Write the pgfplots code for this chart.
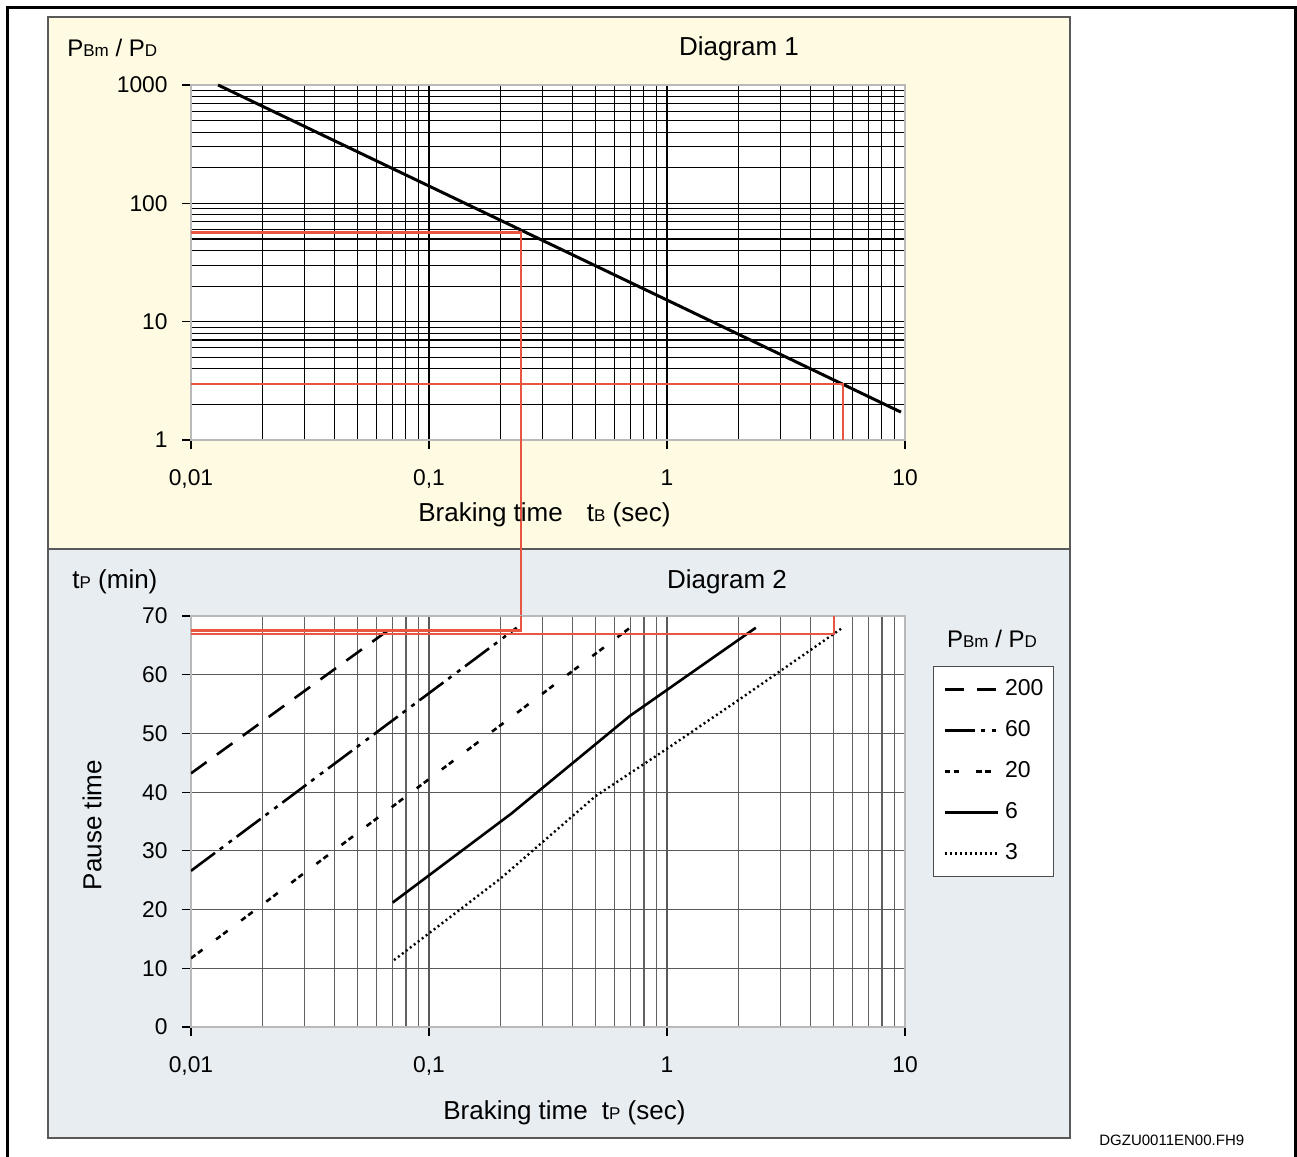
\documentclass[border=0pt]{standalone}
\usepackage{fontspec}
\setmainfont{Liberation Sans}
\usepackage{pgfplots}
\pgfplotsset{compat=1.18}
\definecolor{panelY}{RGB}{254,251,226}
\definecolor{panelB}{RGB}{232,237,242}
\definecolor{redl}{RGB}{232,86,66}
\definecolor{axgray}{RGB}{185,185,185}
\newcommand{\sub}[1]{{\fontsize{8.5}{8.5}\selectfont #1}}
\newcommand{\lab}{\fontsize{13}{14}\selectfont}
\begin{document}
\begin{tikzpicture}
\path[use as bounding box] (0,0) rectangle (648.5pt,-578.5pt);
\draw[line width=1.5pt] (3.5pt,-578.5pt) -- (3.5pt,-3.75pt) -- (647.8pt,-3.75pt) -- (647.8pt,-578.5pt);
\fill[panelY] (24pt,-8.5pt) rectangle (535pt,-274.5pt);
\draw[black!65, line width=0.6pt] (24pt,-8.5pt) rectangle (535pt,-274.5pt);
\fill[panelB] (24pt,-274.5pt) rectangle (535pt,-569pt);
\draw[black!65, line width=0.6pt] (24pt,-274.5pt) rectangle (535pt,-569pt);

% Diagram 1
\begin{axis}[xmode=log, ymode=log, scale only axis, width=357pt, height=177.5pt,
  xmin=0.01, xmax=10, ymin=1, ymax=1000,
  at={(95.5pt,-220pt)}, anchor=south west, clip=false,
  tick pos=left, tick align=outside, major tick length=4.5pt, minor tick length=0pt,
  axis line style={draw=axgray, line width=1.2pt},
  axis background/.style={fill=white},
  xtick={0.01,0.1,1,10}, xticklabels={{0,01},{0,1},1,10},
  ytick={1,10,100,1000}, yticklabels={1,10,100,1000},
  ticklabel style={font=\fontsize{11.4}{12}\selectfont},
  xticklabel style={yshift=-7pt},
  yticklabel style={xshift=-3.7pt},
  major tick style={black, line width=0.6pt},
  grid=both,
  major grid style={black, line width=0.55pt},
  minor grid style={black, line width=0.55pt}]
\addplot[black, line width=1.5pt] coordinates {(0.013,1000) (9.62,1.72)};
\addplot[redl, line width=1.4pt] coordinates {(0.01,57) (0.2436,57) (0.2436,0.0248)};
\addplot[redl, line width=1.4pt] coordinates {(0.01,2.97) (5.49,2.97) (5.49,1)};
\end{axis}

% Diagram 2
\begin{axis}[xmode=log, scale only axis, width=357pt, height=205.5pt,
  xmin=0.01, xmax=10, ymin=0, ymax=70,
  at={(95.5pt,-513.5pt)}, anchor=south west,
  tick pos=left, tick align=outside, major tick length=4.5pt, minor tick length=0pt,
  axis line style={draw=axgray, line width=1.2pt},
  axis background/.style={fill=white},
  xtick={0.01,0.1,1,10}, xticklabels={{0,01},{0,1},1,10},
  ytick={0,10,20,30,40,50,60,70}, yticklabels={0,10,20,30,40,50,60,70},
  ticklabel style={font=\fontsize{11.4}{12}\selectfont},
  xticklabel style={yshift=-7pt},
  yticklabel style={xshift=-3.7pt},
  major tick style={black, line width=0.6pt},
  grid=both,
  major grid style={black!65, line width=0.6pt},
  minor grid style={black!62, line width=0.6pt},
  legend style={at={(1.0392,0.8783)}, anchor=north west, draw=black!70, fill=white,
    font=\fontsize{11.5}{12}\selectfont, inner xsep=5pt, inner ysep=1.2pt, row sep=0pt,
    nodes={inner sep=0pt, minimum height=20.5pt},
    /tikz/every odd column/.append style={column sep=3pt}},
  legend cell align=left,
  legend image code/.code={\draw[#1] (0pt,0pt) -- (26.5pt,0pt);}]
\addplot[black, line width=1.3pt, dash pattern=on 9.6pt off 6.4pt] coordinates {(0.01,43.2) (0.0675,67.6)};
\addlegendentry{200}
\addplot[black, line width=1.3pt, dash pattern=on 15pt off 3pt on 2pt off 3.5pt on 2pt off 3pt] coordinates {(0.01,26.6) (0.2336,68.0)};
\addlegendentry{60}
\addplot[black, line width=1.3pt, dash pattern=on 2.8pt off 1.6pt on 2.8pt off 8.5pt] coordinates {(0.01,11.7) (0.699,68.0)};
\addlegendentry{20}
\addplot[black, line width=1.3pt] coordinates {(0.0704,21.2) (0.2226,36.4) (0.699,53.0) (2.36,68.0)};
\addlegendentry{6}
\addplot[black, line width=1.2pt, dash pattern=on 1pt off 1.5pt] coordinates {(0.0713,11.4) (0.2,25.3) (0.5,39.3) (1,47.4) (2,55.7) (5.42,67.9)};
\addlegendentry{3}
\addplot[redl, line width=1.4pt, forget plot] coordinates {(0.01,67.6) (0.2436,67.6) (0.2436,70)};
\addplot[redl, line width=1.4pt, forget plot] coordinates {(0.01,66.94) (5.03,66.94) (5.03,70)};
\end{axis}

% Texts
\node[anchor=base west, inner sep=0pt, font=\fontsize{12}{13}\selectfont] at (33.5pt,-28pt) {P\sub{Bm} / P\sub{D}};
\node[anchor=base, font=\lab] at (369.5pt,-27.5pt) {Diagram 1};
\node[anchor=base west, inner sep=0pt, font=\lab] at (209pt,-260.5pt) {Braking time\hspace{12pt}t\sub{B} (sec)};
\node[anchor=base west, inner sep=0pt, font=\lab] at (36pt,-294pt) {t\sub{P} (min)};
\node[anchor=base, font=\lab] at (363.5pt,-294pt) {Diagram 2};
\node[rotate=90, font=\lab] at (46pt,-412.5pt) {Pause time};
\node[anchor=base west, inner sep=0pt, font=\lab] at (221.5pt,-559.5pt) {Braking time\hspace{7pt}t\sub{P} (sec)};
\node[anchor=base, font=\fontsize{12}{13}\selectfont] at (496pt,-323.5pt) {P\sub{Bm} / P\sub{D}};
\node[anchor=base west, inner sep=0pt, font=\fontsize{7.5}{8}\selectfont] at (549.5pt,-572.8pt) {DGZU0011EN00.FH9};
\end{tikzpicture}
\end{document}
